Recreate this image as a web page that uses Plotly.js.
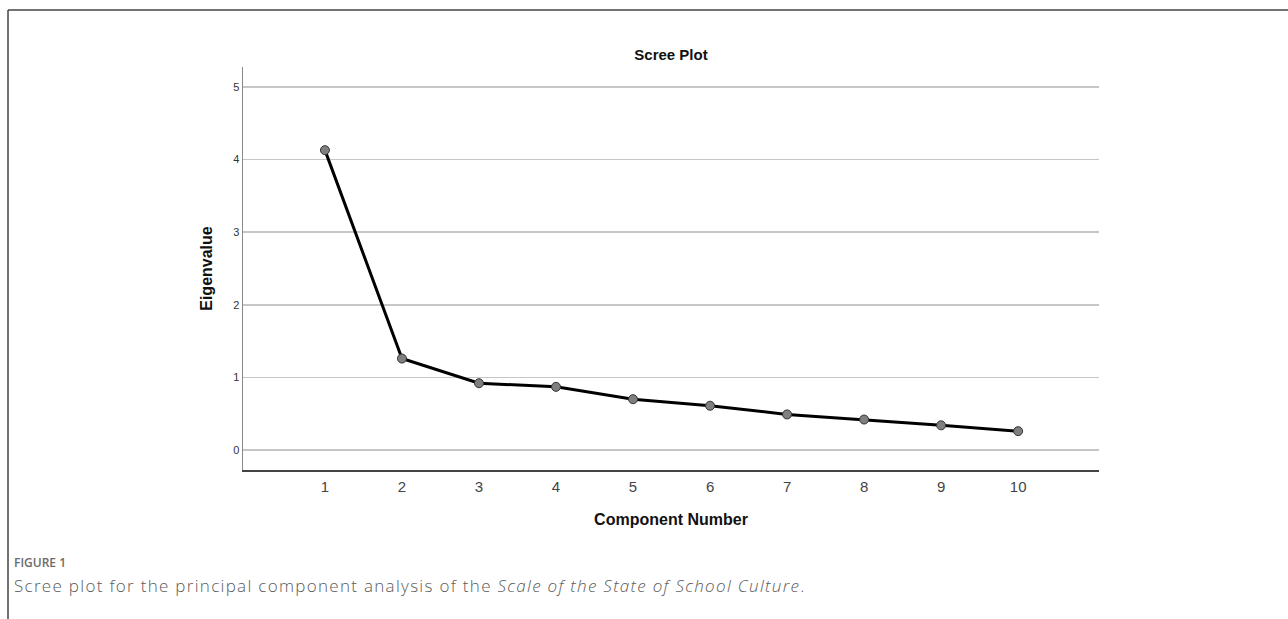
<!DOCTYPE html>
<html>
<head>
<meta charset="utf-8">
<script src="https://cdn.plot.ly/plotly-3.0.1.min.js"></script>
<style>
  html, body { margin: 0; padding: 0; background: #ffffff; }
  #chart { width: 1288px; height: 619px; }
  g.annotation[data-index="1"] text { letter-spacing: 1.3px; }
</style>
</head>
<body>
<div id="chart"></div>
<script>
// ---- data ----
const componentNumbers = [1, 2, 3, 4, 5, 6, 7, 8, 9, 10];
const eigenvalues = [4.13, 1.26, 0.92, 0.87, 0.70, 0.61, 0.49, 0.42, 0.34, 0.26];
const yTickValues = [0, 1, 2, 3, 4, 5];
const xTickValues = [1, 2, 3, 4, 5, 6, 7, 8, 9, 10];
const chartTitle = "Scree Plot";
const xAxisTitle = "Component Number";
const yAxisTitle = "Eigenvalue";
const figureLabel = "FIGURE 1";
const captionText = "Scree plot for the principal component analysis of the <i>Scale of the State of School Culture</i>.";

// ---- geometry helpers (pixel -> paper) ----
const W = 1288, H = 619;
const L = 243, R = 1099, T = 67, B = 470;
const px = x => (x - L) / (R - L);
const py = y => (B - y) / (B - T);

const trace = {
  x: componentNumbers,
  y: eigenvalues,
  type: 'scatter',
  mode: 'lines+markers',
  line: { color: '#000000', width: 3 },
  marker: { size: 9, color: '#7f7f7f', line: { color: '#333333', width: 1 } },
  hoverinfo: 'x+y',
  showlegend: false
};

const layout = {
  width: W,
  height: H,
  margin: { l: L, r: W - R, t: T, b: H - B, pad: 0 },
  paper_bgcolor: '#ffffff',
  plot_bgcolor: '#ffffff',
  font: { family: 'Liberation Sans, Arial, sans-serif', color: '#333333' },
  title: {
    text: '<b>' + chartTitle + '</b>',
    font: { family: 'Liberation Sans, Arial, sans-serif', size: 15, color: '#111111' },
    xref: 'paper', x: 0.5, xanchor: 'center',
    yref: 'container', y: 1 - 55 / H, yanchor: 'middle'
  },
  xaxis: {
    range: [-0.064, 11.05],
    tickvals: xTickValues,
    ticktext: xTickValues.map(String),
    showgrid: false,
    zeroline: false,
    showline: true,
    linecolor: '#444444',
    linewidth: 1.5,
    ticks: '',
    ticklabelstandoff: 2,
    tickfont: { size: 15, color: '#444444' },
    title: {
      text: '<b>' + xAxisTitle + '</b>',
      font: { size: 16, color: '#111111' },
      standoff: 20
    },
    fixedrange: true
  },
  yaxis: {
    range: [-0.275, 5.275],
    tickvals: yTickValues,
    ticktext: yTickValues.map(String),
    showgrid: true,
    gridcolor: '#c6c6c6',
    gridwidth: 1.4,
    zeroline: false,
    showline: true,
    linecolor: '#888888',
    linewidth: 1.5,
    ticks: '',
    tickfont: { size: 11, color: '#333333' },
    title: {
      text: '<b>' + yAxisTitle + '</b>',
      font: { size: 16, color: '#111111' },
      standoff: 16
    },
    fixedrange: true
  },
  shapes: [
    { type: 'line', xref: 'paper', yref: 'paper', x0: px(8), x1: px(1290), y0: py(10), y1: py(10),
      line: { color: '#444444', width: 1.5 } },
    { type: 'line', xref: 'paper', yref: 'paper', x0: px(8), x1: px(8), y0: py(10), y1: py(625),
      line: { color: '#444444', width: 1.5 } }
  ],
  annotations: [
    { text: figureLabel, xref: 'paper', yref: 'paper', x: px(12), y: py(562),
      xanchor: 'left', yanchor: 'middle', align: 'left', showarrow: false,
      font: { family: 'Open Sans, Lato, sans-serif', size: 12, color: '#6b6b6b', weight: 600 } },
    { text: captionText, xref: 'paper', yref: 'paper', x: px(12), y: py(585),
      xanchor: 'left', yanchor: 'middle', align: 'left', showarrow: false,
      font: { family: 'Open Sans, Lato, sans-serif', size: 17, color: '#5a5a5a', weight: 300 } }
  ]
};

Plotly.newPlot('chart', [trace], layout, { staticPlot: true, displayModeBar: false });
</script>
</body>
</html>
